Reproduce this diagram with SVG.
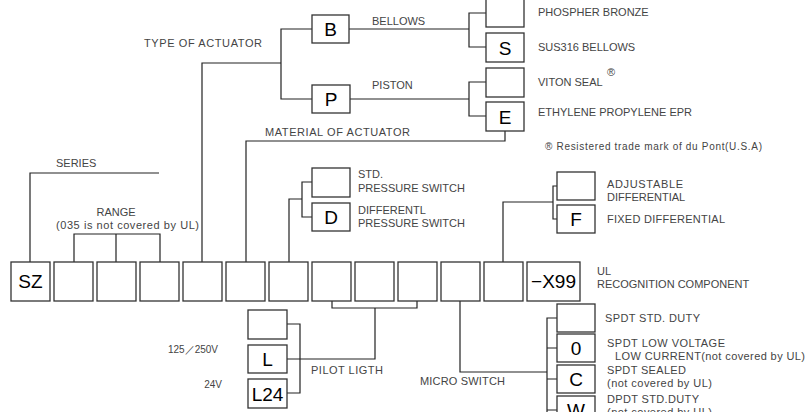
<svg xmlns="http://www.w3.org/2000/svg" width="806" height="412" viewBox="0 0 806 412">
<style>
.bx{fill:#fff;stroke:#333;stroke-width:1.3}
.ln{fill:none;stroke:#222;stroke-width:1.2}
.t{font-family:"Liberation Sans",Arial,sans-serif;font-size:11px;fill:#444}
.s{font-size:10px}
.b{font-family:"Liberation Sans",Arial,sans-serif;font-size:19px;fill:#000;text-anchor:middle}
</style>
<rect width="806" height="412" fill="#fff"/>
<g id="connectors">
<path class="ln" d="M30,262V173H159"/>
<path class="ln" d="M74,262V234H160V262M116,234V262"/>
<path class="ln" d="M202,262V63H281M312,29H281V99H312"/>
<path class="ln" d="M349,29H469M486,13H469V47H486"/>
<path class="ln" d="M350,99H469M486,82H469V116H486"/>
<path class="ln" d="M246,262V141H505V131"/>
<path class="ln" d="M289,262V199H302M312,182H302V217H312"/>
<path class="ln" d="M503,262V202H553M557,186H553V219H557"/>
<path class="ln" d="M332,301V308H417V301M375,308V359H287M287,324H300V393H287"/>
<path class="ln" d="M460,301V372H547M557,318H547V430M547,348H557M547,379H557M547,410H557"/>
</g>
<g id="labels">
<text class="t" x="56" y="167">SERIES</text>
<text class="t" x="116" y="216" text-anchor="middle">RANGE</text>
<text class="t" x="56" y="229" textLength="143" lengthAdjust="spacing">(035 is not covered by UL)</text>
<text class="t" x="144" y="47" textLength="118" lengthAdjust="spacing">TYPE OF ACTUATOR</text>
<text class="t" x="372" y="25">BELLOWS</text>
<text class="t" x="372" y="89">PISTON</text>
<text class="t" x="265" y="136" textLength="145" lengthAdjust="spacing">MATERIAL OF ACTUATOR</text>
<text class="t" x="538" y="16">PHOSPHER BRONZE</text>
<text class="t" x="538" y="51">SUS316 BELLOWS</text>
<text class="t" x="538" y="86">VITON SEAL</text>
<text class="t" x="607" y="76" font-size="10">®</text>
<text class="t" x="538" y="116">ETHYLENE PROPYLENE EPR</text>
<text class="t s" x="545" y="150" textLength="217" lengthAdjust="spacing">® Resistered trade mark of du Pont(U.S.A)</text>
<text class="t" x="358" y="178">STD.</text>
<text class="t" x="358" y="192">PRESSURE SWITCH</text>
<text class="t" x="358" y="214">DIFFERENTL</text>
<text class="t" x="358" y="227">PRESSURE SWITCH</text>
<text class="t" x="607" y="188" textLength="76" lengthAdjust="spacing">ADJUSTABLE</text>
<text class="t" x="607" y="201">DIFFERENTIAL</text>
<text class="t" x="607" y="223" textLength="118" lengthAdjust="spacing">FIXED DIFFERENTIAL</text>
<text class="t" x="597" y="275">UL</text>
<text class="t" x="597" y="288">RECOGNITION COMPONENT</text>
<text class="t s" x="218" y="353" text-anchor="end" font-family="'Liberation Sans','Noto Sans CJK JP',sans-serif">125／250V</text>
<text class="t s" x="222" y="388" text-anchor="end">24V</text>
<text class="t" x="311" y="374" textLength="72" lengthAdjust="spacing">PILOT LIGTH</text>
<text class="t" x="420" y="385" textLength="85" lengthAdjust="spacing">MICRO SWITCH</text>
<text class="t" x="605" y="322" textLength="95" lengthAdjust="spacing">SPDT STD. DUTY</text>
<text class="t" x="607" y="347" textLength="118" lengthAdjust="spacing">SPDT LOW VOLTAGE</text>
<text class="t" x="615" y="360" textLength="190" lengthAdjust="spacing">LOW CURRENT(not covered by UL)</text>
<text class="t" x="607" y="374" textLength="79" lengthAdjust="spacing">SPDT SEALED</text>
<text class="t" x="607" y="387" textLength="105" lengthAdjust="spacing">(not covered by UL)</text>
<text class="t" x="607" y="403" textLength="92" lengthAdjust="spacing">DPDT STD.DUTY</text>
<text class="t" x="607" y="416" textLength="105" lengthAdjust="spacing">(not covered by UL)</text>
</g>
<g id="code-row">
<g id="n-sz"><rect class="bx" x="11" y="262" width="39" height="39"/><text class="b" x="30.5" y="288">SZ</text></g>
<g id="n-r1"><rect class="bx" x="54" y="262" width="39" height="39"/></g>
<g id="n-r2"><rect class="bx" x="97" y="262" width="39" height="39"/></g>
<g id="n-r3"><rect class="bx" x="140" y="262" width="39" height="39"/></g>
<g id="n-act"><rect class="bx" x="183" y="262" width="39" height="39"/></g>
<g id="n-mat"><rect class="bx" x="226" y="262" width="39" height="39"/></g>
<g id="n-ps"><rect class="bx" x="269" y="262" width="39" height="39"/></g>
<g id="n-p1"><rect class="bx" x="312" y="262" width="39" height="39"/></g>
<g id="n-p2"><rect class="bx" x="355" y="262" width="39" height="39"/></g>
<g id="n-p3"><rect class="bx" x="398" y="262" width="39" height="39"/></g>
<g id="n-ms"><rect class="bx" x="441" y="262" width="39" height="39"/></g>
<g id="n-df"><rect class="bx" x="484" y="262" width="39" height="39"/></g>
<g id="n-x99"><rect class="bx" x="527" y="262" width="53" height="39"/><text class="b" x="553.5" y="288">−X99</text></g>
</g>
<g id="n-B"><rect class="bx" x="312" y="15" width="37" height="28"/><text class="b" x="330.5" y="36">B</text></g>
<g id="n-P"><rect class="bx" x="312" y="85" width="38" height="28"/><text class="b" x="331" y="106">P</text></g>
<g id="n-pb"><rect class="bx" x="486" y="-1" width="38" height="28"/></g>
<g id="n-S"><rect class="bx" x="486" y="33" width="38" height="29"/><text class="b" x="505" y="55">S</text></g>
<g id="n-vs"><rect class="bx" x="486" y="68" width="38" height="29"/></g>
<g id="n-E"><rect class="bx" x="486" y="102" width="38" height="29"/><text class="b" x="505" y="124">E</text></g>
<g id="n-std"><rect class="bx" x="312" y="168" width="38" height="29"/></g>
<g id="n-D"><rect class="bx" x="312" y="203" width="38" height="28"/><text class="b" x="331" y="224">D</text></g>
<g id="n-adj"><rect class="bx" x="557" y="172" width="38" height="28"/></g>
<g id="n-F"><rect class="bx" x="557" y="205" width="38" height="28"/><text class="b" x="576" y="226">F</text></g>
<g id="n-pl"><rect class="bx" x="248" y="310" width="39" height="29"/></g>
<g id="n-L"><rect class="bx" x="248" y="345" width="39" height="28"/><text class="b" x="267.5" y="366">L</text></g>
<g id="n-L24"><rect class="bx" x="248" y="379" width="39" height="29"/><text class="b" x="267.5" y="401">L24</text></g>
<g id="n-spdt"><rect class="bx" x="557" y="304" width="38" height="28"/></g>
<g id="n-0"><rect class="bx" x="557" y="334" width="38" height="28"/><text class="b" x="576" y="355">0</text></g>
<g id="n-C"><rect class="bx" x="557" y="365" width="38" height="28"/><text class="b" x="576" y="386">C</text></g>
<g id="n-W"><rect class="bx" x="557" y="396" width="38" height="28"/><text class="b" x="576" y="417">W</text></g>
</svg>
